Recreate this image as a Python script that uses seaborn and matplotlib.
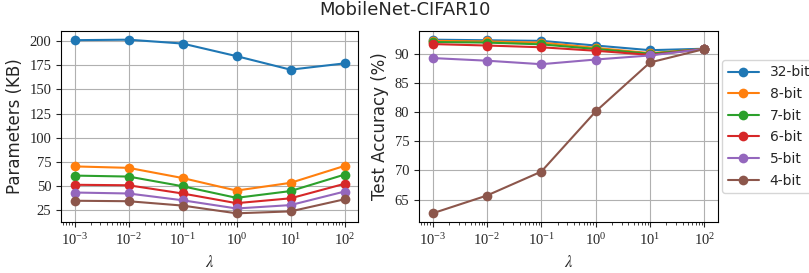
import numpy as np
import pandas as pd
import seaborn as sns
import matplotlib.pyplot as plt
from matplotlib.ticker import LogLocator, NullFormatter

lambdas = [1e-3, 1e-2, 1e-1, 1e0, 1e1, 1e2]
bits = ['32-bit', '8-bit', '7-bit', '6-bit', '5-bit', '4-bit']

params_kb = {
    '32-bit': [201, 201.5, 197.5, 184.5, 170.5, 177],
    '8-bit': [70.5, 69, 58.5, 45.5, 53.5, 71],
    '7-bit': [61, 60, 50, 38, 45, 62],
    '6-bit': [51.5, 51, 42.5, 32.5, 37.5, 52.5],
    '5-bit': [43.5, 42.5, 35.5, 27, 30.5, 44.5],
    '4-bit': [35, 34.5, 30, 22, 24, 36.5],
}

test_acc = {
    '32-bit': [92.4, 92.3, 92.2, 91.4, 90.6, 90.85],
    '8-bit': [92.2, 92.1, 91.9, 91.0, 90.1, 90.8],
    '7-bit': [92.0, 91.9, 91.6, 90.8, 90.0, 90.8],
    '6-bit': [91.65, 91.4, 91.1, 90.5, 89.8, 90.8],
    '5-bit': [89.25, 88.8, 88.2, 89.0, 89.7, 90.8],
    '4-bit': [62.65, 65.7, 69.8, 80.1, 88.5, 90.8],
}

#---------------- build long tables ----------------
def to_long(d, name):
    rows = []
    for b in bits:
        for lam, v in zip(lambdas, d[b]):
            rows.append({'lambda': lam, name: v, 'bits': b})
    return pd.DataFrame(rows)

df_params = to_long(params_kb, 'params')
df_acc = to_long(test_acc, 'acc')

#---------------- plot ----------------
sns.set_style("ticks")
plt.rcParams['font.family'] = ['DejaVu Sans']
plt.rcParams['mathtext.fontset'] = 'stix'

fig = plt.figure(figsize=(8.09, 2.73), dpi=100)
ax1 = fig.add_axes([61/809, 1-222/273, 297/809, 191/273])
ax2 = fig.add_axes([419/809, 1-222/273, 299/809, 191/273])

palette = sns.color_palette('tab10', 6)

for ax, data, col, ylabel in [(ax1, df_params, 'params', 'Parameters (KB)'),
                              (ax2, df_acc, 'acc', 'Test Accuracy (%)')]:
    sns.lineplot(data=data, x='lambda', y=col, hue='bits', hue_order=bits,
                 palette=palette, marker='o', markersize=7, markeredgewidth=0,
                 linewidth=1.5, ax=ax, legend=(ax is ax2))
    ax.set_xscale('log')
    ax.xaxis.set_minor_locator(LogLocator(base=10, subs=np.arange(2, 10), numticks=100))
    ax.xaxis.set_minor_formatter(NullFormatter())
    ax.tick_params(which='minor', length=2, width=0.6)
    ax.tick_params(which='major', length=3.5, width=0.8)
    ax.grid(True, which='major', color='#b0b0b0', linewidth=0.8)
    ax.set_xlabel(r'$\lambda$', fontsize=12)
    ax.set_ylabel(ylabel, fontsize=12)
    for s in ax.spines.values():
        s.set_color('black')

ax1.set_yticks([25, 50, 75, 100, 125, 150, 175, 200])
ax2.set_yticks([65, 70, 75, 80, 85, 90])
for ax in (ax1, ax2):
    for lbl in ax.get_xticklabels() + ax.get_yticklabels():
        lbl.set_family('Liberation Serif')
        lbl.set_fontsize(10.5)

ax2.legend(loc='center left', bbox_to_anchor=(1.015, 0.5), fontsize=10,
           handlelength=2.2, borderaxespad=0, labelspacing=0.55)

fig.suptitle('MobileNet-CIFAR10', fontsize=13, y=0.995)
plt.savefig('out.png', dpi=100)
